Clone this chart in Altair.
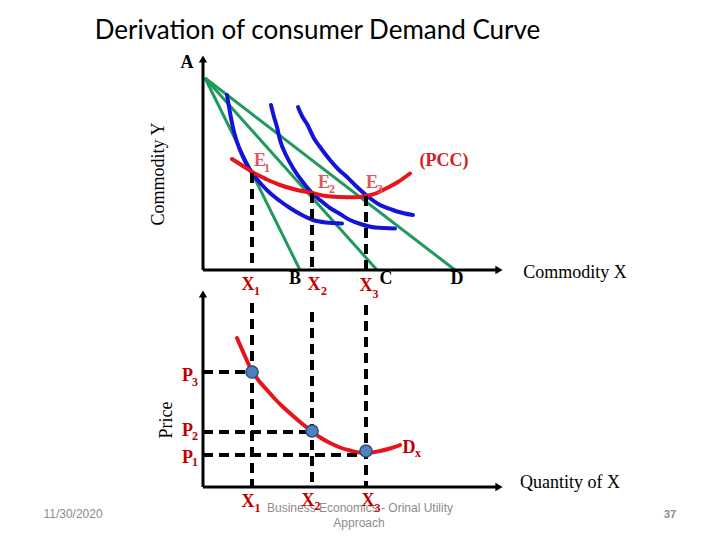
import altair as alt
import pandas as pd

# ---------------- data (canvas units: x right, y down) ----------------
# indifference curves (upper panel)
ic1_x = [227, 231, 234, 240, 246, 253, 262, 270, 280, 290, 302, 313, 326, 342]
ic1_y = [95, 118, 132, 150, 163, 174, 185, 193, 201, 208, 215, 220, 222.5, 223.5]
ic2_x = [271, 274, 277, 280, 286, 293, 302, 312, 320, 330, 340, 350, 362, 375, 395]
ic2_y = [105, 117, 127, 140, 155, 168, 181, 193, 200, 208, 214, 220, 224.5, 227.5, 228.5]
ic3_x = [298, 302, 307, 315, 320, 330, 338, 347, 356, 366, 380, 390, 397, 413]
ic3_y = [107, 116, 124, 140, 147, 160, 169, 177, 186, 195, 205, 209, 211.5, 215]

# price consumption curve
pcc_x = [232, 243, 253, 266, 280, 295, 312, 326, 340, 354, 366, 377, 387, 398, 410]
pcc_y = [159, 166, 172.5, 179, 185, 189.5, 193, 196, 197, 197.3, 196, 193, 188, 182, 173.5]

# demand curve (lower panel)
dem_x = [237, 244, 252, 259, 267, 275, 283, 292, 300, 312, 321, 330, 340, 350, 360, 370, 380, 390, 400]
dem_y = [338, 354, 371, 381, 390, 399, 407, 415, 422, 431.5, 438, 443, 447.5, 450.5, 452.5, 452.5, 451, 448.5, 445]

# budget lines from A to B, C, D
budget_x = [205, 205, 205]
budget_y = [78, 78, 78]
budget_x2 = [300, 377, 455]
budget_y2 = [270, 270, 270]

# axes (upper y, upper x, lower y, lower x)
axis_x = [203, 203, 203, 203]
axis_y = [270, 270, 487, 487]
axis_x2 = [203, 496, 203, 496]
axis_y2 = [62, 270, 297, 487]
arrow_x = [203, 499, 203, 499]
arrow_y = [59, 270, 294, 487]
arrow_shape = ["triangle-up", "triangle-right", "triangle-up", "triangle-right"]

# dashed guide lines
dash_x = [252, 252, 312, 312, 366, 366, 203, 203, 203]
dash_y = [173, 303, 193, 312, 196, 305, 372, 432, 455]
dash_x2 = [252, 252, 312, 312, 366, 366, 252, 312, 366]
dash_y2 = [270, 487, 270, 487, 270, 487, 372, 432, 455]

# equilibrium price-quantity points
pt_x = [252, 312, 366]
pt_y = [372, 431, 451]

# bold serif labels
lab_text = ["A", "B", "C", "D", "X", "X", "X", "(PCC)", "P", "P", "P", "D", "X", "X", "X"]
lab_x = [187, 295, 386, 457, 248, 314, 366, 444, 187.5, 187.5, 187.5, 409, 248, 308, 368]
lab_y = [63, 279, 279, 279, 285, 285, 286, 161, 376, 431, 457.5, 447.5, 501.5, 501, 501]
lab_color = ["#000000", "#000000", "#000000", "#000000", "#c00000", "#c00000", "#c00000",
             "#d42020", "#c00000", "#c00000", "#c00000", "#c00000", "#c00000", "#c00000", "#c00000"]
sub_text = ["1", "2", "3", "3", "2", "1", "x", "1", "2", "3"]
sub_x = [257, 324, 375.5, 195, 195, 195, 418, 257.5, 317.5, 377.5]
sub_y = [291, 291, 294, 382, 436, 462, 453, 508, 506, 508]

# equilibrium labels
e_text = ["E", "E", "E"]
e_x = [260, 324, 372]
e_y = [161, 183, 183]
esub_text = ["1", "2", "3"]
esub_x = [267, 332, 380]
esub_y = [168, 189, 189]

# axis titles
ttl_text = ["Commodity X", "Quantity of  X"]
ttl_x = [575, 570]
ttl_y = [273, 483]
rot_text = ["Commodity Y", "Price"]
rot_x = [159, 167]
rot_y = [174, 420]

# slide footer
foot_text = ["11/30/2020", "Business Economics - Orinal Utility", "Approach"]
foot_x = [73, 360, 359]
foot_y = [514, 508, 522.5]

# ---------------- build ----------------
def curve(xs, ys, name):
    return pd.DataFrame({"x": xs, "y": ys, "o": list(range(len(xs))), "id": name})

ic_df = pd.concat([curve(ic1_x, ic1_y, "IC1"), curve(ic2_x, ic2_y, "IC2"), curve(ic3_x, ic3_y, "IC3")])
red_df = pd.concat([curve(pcc_x, pcc_y, "PCC"), curve(dem_x, dem_y, "Dx")])

XS = alt.Scale(domain=[8, 712], nice=False, zero=False)
YS = alt.Scale(domain=[8, 532], nice=False, zero=False, reverse=True)
X = lambda f="x": alt.X(f"{f}:Q", scale=XS, axis=None)
Y = lambda f="y": alt.Y(f"{f}:Q", scale=YS, axis=None)

budget = alt.Chart(pd.DataFrame({"x": budget_x, "y": budget_y, "x2": budget_x2, "y2": budget_y2})).mark_rule(
    color="#1f9a5c", strokeWidth=3).encode(x=X(), y=Y(), x2="x2:Q", y2="y2:Q")

ics = alt.Chart(ic_df).mark_line(color="#1414d8", strokeWidth=4, interpolate="monotone", strokeCap="round").encode(
    x=X(), y=Y(), detail="id:N", order="o:Q")

reds = alt.Chart(red_df).mark_line(color="#e8141c", strokeWidth=4, interpolate="monotone", strokeCap="round").encode(
    x=X(), y=Y(), detail="id:N", order="o:Q")

dashes = alt.Chart(pd.DataFrame({"x": dash_x, "y": dash_y, "x2": dash_x2, "y2": dash_y2})).mark_rule(
    color="#000000", strokeWidth=4, strokeDash=[10, 6]).encode(x=X(), y=Y(), x2="x2:Q", y2="y2:Q")

axes = alt.Chart(pd.DataFrame({"x": axis_x, "y": axis_y, "x2": axis_x2, "y2": axis_y2})).mark_rule(
    color="#000000", strokeWidth=3).encode(x=X(), y=Y(), x2="x2:Q", y2="y2:Q")

arrows = alt.Chart(pd.DataFrame({"x": arrow_x, "y": arrow_y, "s": arrow_shape})).mark_point(
    filled=True, color="#000000", size=70, opacity=1).encode(
    x=X(), y=Y(), shape=alt.Shape("s:N", scale=None))

points = alt.Chart(pd.DataFrame({"x": pt_x, "y": pt_y})).mark_circle(
    size=150, color="#4f81bd", stroke="#2c4d7e", strokeWidth=1.5, opacity=1).encode(x=X(), y=Y())

labels = alt.Chart(pd.DataFrame({"x": lab_x, "y": lab_y, "t": lab_text, "c": lab_color})).mark_text(
    font="Liberation Serif", fontWeight="bold", fontSize=18, baseline="middle", align="center").encode(
    x=X(), y=Y(), text="t:N", color=alt.Color("c:N", scale=None))

subs = alt.Chart(pd.DataFrame({"x": sub_x, "y": sub_y, "t": sub_text})).mark_text(
    font="Liberation Serif", fontWeight="bold", fontSize=12, baseline="middle", align="center",
    color="#c00000").encode(x=X(), y=Y(), text="t:N")

elab = alt.Chart(pd.DataFrame({"x": e_x, "y": e_y, "t": e_text})).mark_text(
    font="Liberation Serif", fontWeight="bold", fontSize=18, baseline="middle", align="center",
    color="#dc5a5a").encode(x=X(), y=Y(), text="t:N")

esub = alt.Chart(pd.DataFrame({"x": esub_x, "y": esub_y, "t": esub_text})).mark_text(
    font="Liberation Serif", fontWeight="bold", fontSize=12, baseline="middle", align="center",
    color="#dc5a5a").encode(x=X(), y=Y(), text="t:N")

titles = alt.Chart(pd.DataFrame({"x": ttl_x, "y": ttl_y, "t": ttl_text})).mark_text(
    font="Liberation Serif", fontSize=18, baseline="middle", align="center", color="#000000").encode(
    x=X(), y=Y(), text="t:N")

rtitles = alt.Chart(pd.DataFrame({"x": rot_x, "y": rot_y, "t": rot_text})).mark_text(
    font="Liberation Serif", fontSize=18, baseline="middle", align="center", angle=270, color="#000000").encode(
    x=X(), y=Y(), text="t:N")

footer = alt.Chart(pd.DataFrame({"x": foot_x, "y": foot_y, "t": foot_text})).mark_text(
    font="Liberation Sans", fontSize=12, baseline="middle", align="center", color="#8c8c8c").encode(
    x=X(), y=Y(), text="t:N")

page_no = alt.Chart(pd.DataFrame({"x": [670], "y": [515], "t": ["37"]})).mark_text(
    font="Liberation Sans", fontSize=11, fontWeight="bold", baseline="middle", align="center",
    color="#8c8c8c").encode(x=X(), y=Y(), text="t:N")

heading = alt.Chart(pd.DataFrame({"x": [317.5], "y": [31], "t": ["Derivation of consumer Demand Curve"]})).mark_text(
    font="Lato", fontSize=26, baseline="middle", align="center", color="#000000").encode(
    x=X(), y=Y(), text="t:N")

chart = alt.layer(
    budget, ics, reds, dashes, axes, arrows, points,
    footer, labels, subs, elab, esub, titles, rtitles, page_no, heading
).properties(width=704, height=524, padding=0, autosize="none", background="white"
).configure_view(stroke=None)

chart.save("out.html", embed_options={"renderer": "svg", "actions": False})
